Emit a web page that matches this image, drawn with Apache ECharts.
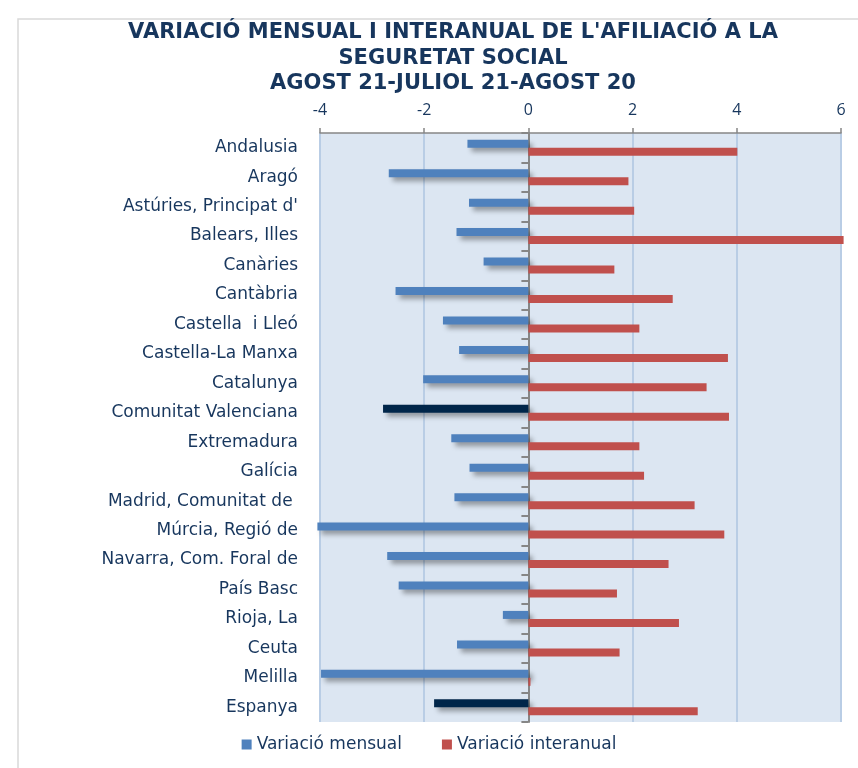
<!DOCTYPE html>
<html>
<head>
<meta charset="utf-8">
<script src="https://cdn.jsdelivr.net/npm/echarts@6/dist/echarts.min.js"></script>
<style>
	html, body { margin: 0; padding: 0; background: #fff; }
	#chart { width: 858px; height: 768px; }
</style>
</head>
<body>
<div id="chart"></div>
<script>
const regions = [
	'Andalusia', 'Aragó', "Astúries, Principat d'", 'Balears, Illes', 'Canàries',
	'Cantàbria', 'Castella  i Lleó', 'Castella-La Manxa', 'Catalunya', 'Comunitat Valenciana',
	'Extremadura', 'Galícia', 'Madrid, Comunitat de ', 'Múrcia, Regió de', 'Navarra, Com. Foral de',
	'País Basc', 'Rioja, La', 'Ceuta', 'Melilla', 'Espanya'
];
const mensual = [
	-1.17, -2.68, -1.14, -1.38, -0.86,
	-2.55, -1.64, -1.33, -2.02, -2.79,
	-1.48, -1.13, -1.42, -4.05, -2.71,
	-2.49, -0.49, -1.37, -3.98, -1.81
];
const interanual = [
	4.01, 1.92, 2.03, 6.05, 1.65,
	2.77, 2.13, 3.83, 3.42, 3.85,
	2.13, 2.22, 3.19, 3.76, 2.69,
	1.70, 2.89, 1.75, 0.04, 3.25
];
// rows drawn in the dark colour
const highlighted = ['Comunitat Valenciana', 'Espanya'];
const xTicks = { min: -4, max: 6, interval: 2 };
const titleText = "VARIACIÓ MENSUAL I INTERANUAL DE L'AFILIACIÓ A LA\nSEGURETAT SOCIAL\nAGOST 21-JULIOL 21-AGOST 20";

const navy = '#17365d';
const chart = echarts.init(document.getElementById('chart'));

const mensualData = mensual.map((value, index) => {
	if (highlighted.includes(regions[index])) {
		return { value, itemStyle: { color: '#00264a' } };
	}
	return value;
});

const option = {
	animation: false,
	graphic: [
		{
			type: 'rect',
			shape: { x: 18, y: 19, width: 900, height: 800 },
			style: { fill: 'none', stroke: '#d9d9d9', lineWidth: 1.5 },
			silent: true
		},
		{
			// the title sits a bit right of the page centre, as in the original
			type: 'text',
			x: 453,
			y: 20,
			silent: true,
			style: {
				text: titleText,
				align: 'center',
				verticalAlign: 'top',
				fill: navy,
				font: 'bold 21px "DejaVu Sans"',
				lineHeight: 25.5
			}
		}
	],
	legend: {
		bottom: 10,
		left: 'center',
		icon: 'rect',
		itemWidth: 10,
		itemHeight: 10,
		itemGap: 40,
		textStyle: { color: navy, fontFamily: 'DejaVu Sans', fontSize: 17 },
		data: ['Variació mensual', 'Variació interanual']
	},
	grid: {
		left: 320,
		right: 17,
		top: 133,
		bottom: 46,
		show: true,
		backgroundColor: '#dce6f2',
		borderWidth: 0
	},
	xAxis: {
		type: 'value',
		position: 'top',
		min: xTicks.min,
		max: xTicks.max,
		interval: xTicks.interval,
		axisLine: { show: true, lineStyle: { color: '#868686', width: 1.5 } },
		axisTick: { show: true, length: 5, lineStyle: { color: '#868686', width: 1.5 } },
		axisLabel: { color: navy, fontFamily: 'Open Sans', fontSize: 16, margin: 15 },
		splitLine: { show: true, lineStyle: { color: '#b9cde5', width: 2 } }
	},
	yAxis: [
		{
			type: 'category',
			inverse: true,
			data: regions,
			axisLine: { show: false, onZero: false },
			axisTick: { show: false },
			axisLabel: { color: navy, fontFamily: 'DejaVu Sans', fontSize: 17, margin: 22 }
		},
		{
			type: 'category',
			inverse: true,
			data: regions,
			position: 'left',
			axisLine: { show: true, onZero: true, onZeroAxisIndex: 0, lineStyle: { color: '#868686', width: 2 } },
			axisTick: { show: true, length: 7, lineStyle: { color: '#868686', width: 2 } },
			axisLabel: { show: false },
			splitLine: { show: false }
		}
	],
	series: [
		{
			name: 'Variació mensual',
			type: 'bar',
			yAxisIndex: 0,
			barWidth: 8,
			barGap: '0%',
			clip: false,
			itemStyle: {
				color: '#4f81bd',
				shadowColor: 'rgba(0,0,0,0.35)',
				shadowBlur: 5,
				shadowOffsetX: 4,
				shadowOffsetY: 4
			},
			data: mensualData
		},
		{
			name: 'Variació interanual',
			type: 'bar',
			yAxisIndex: 0,
			barWidth: 8,
			barGap: '0%',
			barMinWidth: 2,
			clip: false,
			itemStyle: { color: '#c0504d' },
			data: interanual
		}
	]
};

chart.setOption(option);
</script>
</body>
</html>
